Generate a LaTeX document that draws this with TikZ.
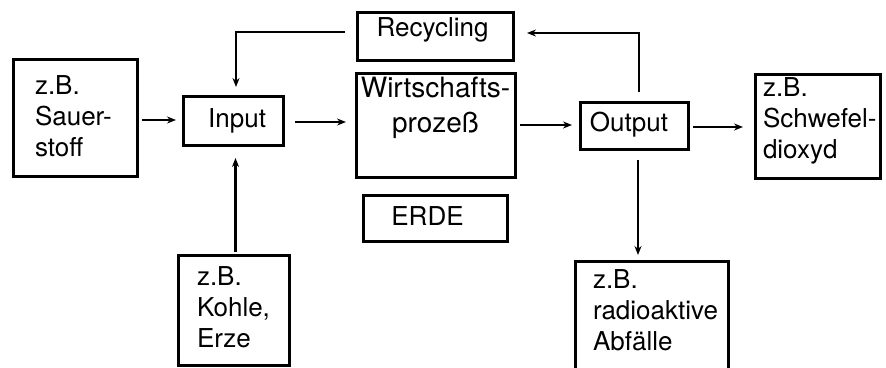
\documentclass[tikz,border=0pt]{standalone}
\usepackage{fontspec}
\setmainfont{TeX Gyre Heros}
\usetikzlibrary{arrows.meta,calc}
\tikzset{
  box/.style={draw, line width=3pt, inner sep=0pt, outer sep=0pt},
  txt/.style={inner sep=0pt, outer sep=0pt, font=\fontsize{26}{31}\selectfont},
  mtxt/.style={txt, align=left, anchor=north west},
  arr/.style={line width=2.2pt, -{Stealth[length=9pt,width=7pt]}},
}
\begin{document}
\begin{tikzpicture}[x=1pt,y=-1pt]
\useasboundingbox[fill=white] (0,0) rectangle (886,367);
% boxes
\node[box, minimum width=124pt, minimum height=117pt] (sauer) at (75,117.5) {};
\node[box, minimum width=100pt, minimum height=49pt] (input) at (233,120.5) {};
\node[box, minimum width=156pt, minimum height=48pt] (recyc) at (435,36) {};
\node[box, minimum width=159pt, minimum height=104pt] (wirt) at (435.5,125) {};
\node[box, minimum width=144pt, minimum height=46pt] (erde) at (435,218) {};
\node[box, minimum width=108pt, minimum height=47pt] (output) at (634,125.5) {};
\node[box, minimum width=125pt, minimum height=104pt] (schwefel) at (817.5,126) {};
\node[box, minimum width=111pt, minimum height=110pt] (kohle) at (233.5,310) {};
\node[box, minimum width=153pt, minimum height=115pt] (radio) at (651.5,318.5) {};
% texts
\node[mtxt] (tsauer) at (35,75.5) {z.B.\\Sauer-\\stoff};
\node[txt, anchor=base] (tinput) at (237,127) {Input};
\node[txt, anchor=base] (trecyc) at (432.5,36) {Recycling};
\node[txt, anchor=base, align=center, font=\fontsize{28}{35}\selectfont] (twirt) at (435.5,132) {Wirtschafts-\\prozeß};
\node[txt, anchor=base] (terde) at (427.5,225) {ERDE};
\node[txt, anchor=base] (toutput) at (629,131) {Output};
\node[mtxt] (tschwefel) at (763,77.5) {z.B.\\Schwefel-\\dioxyd};
\node[mtxt] (tkohle) at (197,266.5) {z.B.\\Kohle,\\Erze};
\node[mtxt] (tradio) at (593,269.5) {z.B.\\radioaktive\\Abfälle};
% connectors
\draw[arr, shorten <=5pt, shorten >=7pt] (sauer.east |- 0,120) -- (input.west |- 0,120);
\draw[arr, shorten <=12pt, shorten >=10pt] (input.east |- 0,122) -- (wirt.west |- 0,122);
\draw[arr, shorten <=5pt, shorten >=8pt] (wirt.east |- 0,125) -- (output.west |- 0,125);
\draw[arr, shorten <=5pt, shorten >=12pt] (output.east |- 0,127) -- (schwefel.west |- 0,127);
\draw[arr, shorten <=10pt, shorten >=14pt] ([xshift=5pt]output.north) |- ([yshift=3pt]recyc.east);
\draw[arr, shorten <=12pt, shorten >=9pt] ([yshift=4pt]recyc.west) -| ([xshift=3pt]input.north);
\draw[arr, shorten <=3pt, shorten >=13pt] ([xshift=2pt]kohle.north) -- ([xshift=2pt]kohle.north |- input.south);
\draw[arr, shorten <=11pt, shorten >=6pt] ([xshift=4pt]output.south) -- ([xshift=4pt]output.south |- radio.north);
\end{tikzpicture}
\end{document}
